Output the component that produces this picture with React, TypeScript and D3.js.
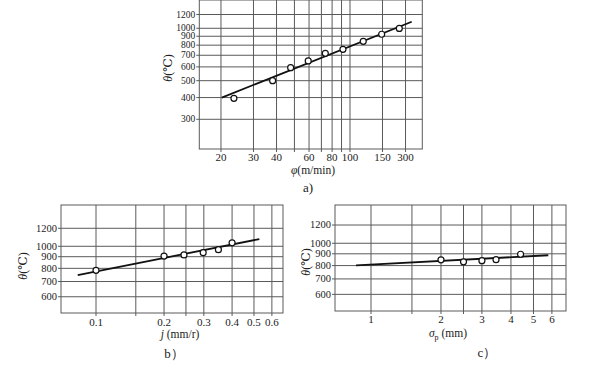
import React from "react";
import * as d3 from "d3";

// ---- Chart a ----
const aXGrid = [20, 30, 40, 50, 60, 70, 80, 90, 100, 150, 200];
const aXTickVals = [20, 30, 40, 60, 80, 100, 150, 200];
const aXTickLabels = ["20", "30", "40", "60", "80", "100", "150", "300"];
const aYGrid = [300, 400, 500, 600, 700, 800, 900, 1000, 1200];
const aYTickLabels = ["300", "400", "500", "600", "700", "800", "900", "1000", "1200"];
const aPtsX = [23.5, 38.1, 47.7, 59.4, 73.5, 91.6, 118, 148.5, 185];
const aPtsY = [396, 500, 594, 649, 718, 757, 842, 924, 998];
const aFitX = [20.2, 216];
const aFitY = [400, 1090];

// ---- Chart b ----
const bXGrid = [0.1, 0.15, 0.2, 0.25, 0.3, 0.4, 0.5, 0.6];
const bXTickVals = [0.1, 0.2, 0.3, 0.4, 0.5, 0.6];
const bXTickLabels = ["0.1", "0.2", "0.3", "0.4", "0.5", "0.6"];
const bYGrid = [600, 700, 800, 900, 1000, 1200];
const bYTickLabels = ["600", "700", "800", "900", "1000", "1200"];
const bPtsX = [0.1, 0.2, 0.245, 0.298, 0.348, 0.4];
const bPtsY = [784, 906, 916, 937, 966, 1036];
const bFitX = [0.083, 0.528];
const bFitY = [747, 1076];

// ---- Chart c ----
const cXGrid = [1, 1.5, 2, 2.5, 3, 4, 5, 6];
const cXTickVals = [1, 2, 3, 4, 5, 6];
const cXTickLabels = ["1", "2", "3", "4", "5", "6"];
const cYGrid = [600, 700, 800, 900, 1000, 1200];
const cYTickLabels = ["600", "700", "800", "900", "1000", "1200"];
const cPtsX = [2, 2.5, 3, 3.45, 4.4];
const cPtsY = [847, 831, 840, 849, 896];
const cFitX = [0.862, 5.79];
const cFitY = [802, 887];

const FONT = '"Liberation Serif", "DejaVu Serif", serif';
const GRID = "#5a5a5a";

type PanelProps = {
  x0: number; x1: number; y0: number; y1: number;
  xDomain: [number, number]; yDomain: [number, number];
  xGrid: number[]; xTickVals: number[]; xTickLabels: string[];
  yGrid: number[]; yTickLabels: string[];
  ptsX: number[]; ptsY: number[]; fitX: number[]; fitY: number[];
  xLabelY: number; yFont: number;
  yTitle: { x: number; y: number };
  xTitle: { x: number; y: number; node: React.ReactNode };
  caption: { x: number; y: number; text: string };
};

function Panel(p: PanelProps) {
  const xs = d3.scaleLog().domain(p.xDomain).range([p.x0, p.x1]);
  const ys = d3.scaleLog().domain(p.yDomain).range([p.y1, p.y0]);
  const line = d3
    .line<number>()
    .x((d) => xs(p.fitX[d]))
    .y((d) => ys(p.fitY[d]));
  return (
    <g style={{ fontFamily: FONT }} fill="#222">
      {p.xGrid.map((v) => (
        <line key={"xg" + v} x1={xs(v)} x2={xs(v)} y1={p.y0} y2={p.y1 + 3} stroke={GRID} strokeWidth={1} />
      ))}
      {p.yGrid.map((v) => (
        <line key={"yg" + v} x1={p.x0 - 3} x2={p.x1} y1={ys(v)} y2={ys(v)} stroke={GRID} strokeWidth={1} />
      ))}
      <rect x={p.x0} y={p.y0} width={p.x1 - p.x0} height={p.y1 - p.y0} fill="none" stroke={GRID} strokeWidth={1} />
      <path d={line(p.fitX.map((_, i) => i)) || ""} stroke="#111" strokeWidth={1.8} fill="none" />
      {p.ptsX.map((v, i) => (
        <circle key={"pt" + i} cx={xs(v)} cy={ys(p.ptsY[i])} r={3} fill="#fff" stroke="#111" strokeWidth={1.2} />
      ))}
      {p.xTickVals.map((v, i) => (
        <text key={"xt" + i} x={xs(v)} y={p.xLabelY} fontSize={11} textAnchor="middle">
          {p.xTickLabels[i]}
        </text>
      ))}
      {p.yGrid.map((v, i) => (
        <text key={"yt" + i} x={p.x0 - 4} y={ys(v)} dy="0.33em" fontSize={p.yFont} textAnchor="end">
          {p.yTickLabels[i]}
        </text>
      ))}
      <text
        transform={`translate(${p.yTitle.x},${p.yTitle.y}) rotate(-90)`}
        fontSize={12}
        textAnchor="middle"
        dy="0.35em"
      >
        <tspan fontStyle="italic">θ</tspan>
        <tspan>(℃)</tspan>
      </text>
      <text x={p.xTitle.x} y={p.xTitle.y} fontSize={11.5} textAnchor="middle">
        {p.xTitle.node}
      </text>
      <text x={p.caption.x} y={p.caption.y} fontSize={13} textAnchor="middle">
        {p.caption.text}
      </text>
    </g>
  );
}

export default function App() {
  return (
    <svg width={598} height={368} style={{ position: "absolute", left: 0, top: 0, background: "#fff" }}>
      <rect width={598} height={368} fill="#fff" />
      <Panel
        x0={199.3} x1={422.3} y0={0} y1={149}
        xDomain={[15.26, 246.5]} yDomain={[202.5, 1454]}
        xGrid={aXGrid} xTickVals={aXTickVals} xTickLabels={aXTickLabels}
        yGrid={aYGrid} yTickLabels={aYTickLabels}
        ptsX={aPtsX} ptsY={aPtsY} fitX={aFitX} fitY={aFitY}
        xLabelY={160.5} yFont={9.5}
        yTitle={{ x: 168, y: 68 }}
        xTitle={{ x: 313, y: 174, node: (<><tspan fontStyle="italic">φ</tspan><tspan>(m/min)</tspan></>) }}
        caption={{ x: 308, y: 192, text: "a)" }}
      />
      <Panel
        x0={61} x1={283} y0={205} y1={313}
        xDomain={[0.07, 0.672]} yDomain={[509, 1519]}
        xGrid={bXGrid} xTickVals={bXTickVals} xTickLabels={bXTickLabels}
        yGrid={bYGrid} yTickLabels={bYTickLabels}
        ptsX={bPtsX} ptsY={bPtsY} fitX={bFitX} fitY={bFitY}
        xLabelY={325.5} yFont={10.5}
        yTitle={{ x: 23, y: 266 }}
        xTitle={{ x: 180, y: 338, node: (<><tspan fontStyle="italic">j</tspan><tspan> (mm/r)</tspan></>) }}
        caption={{ x: 174, y: 358, text: "b）" }}
      />
      <Panel
        x0={335} x1={566} y0={205} y1={311}
        xDomain={[0.7, 6.9]} yDomain={[508, 1466]}
        xGrid={cXGrid} xTickVals={cXTickVals} xTickLabels={cXTickLabels}
        yGrid={cYGrid} yTickLabels={cYTickLabels}
        ptsX={cPtsX} ptsY={cPtsY} fitX={cFitX} fitY={cFitY}
        xLabelY={323} yFont={10.5}
        yTitle={{ x: 306, y: 262 }}
        xTitle={{
          x: 448, y: 337,
          node: (<><tspan fontStyle="italic">σ</tspan><tspan fontSize={8} dy="3">p</tspan><tspan dy="-3"> (mm)</tspan></>),
        }}
        caption={{ x: 487, y: 357, text: "c）" }}
      />
    </svg>
  );
}
